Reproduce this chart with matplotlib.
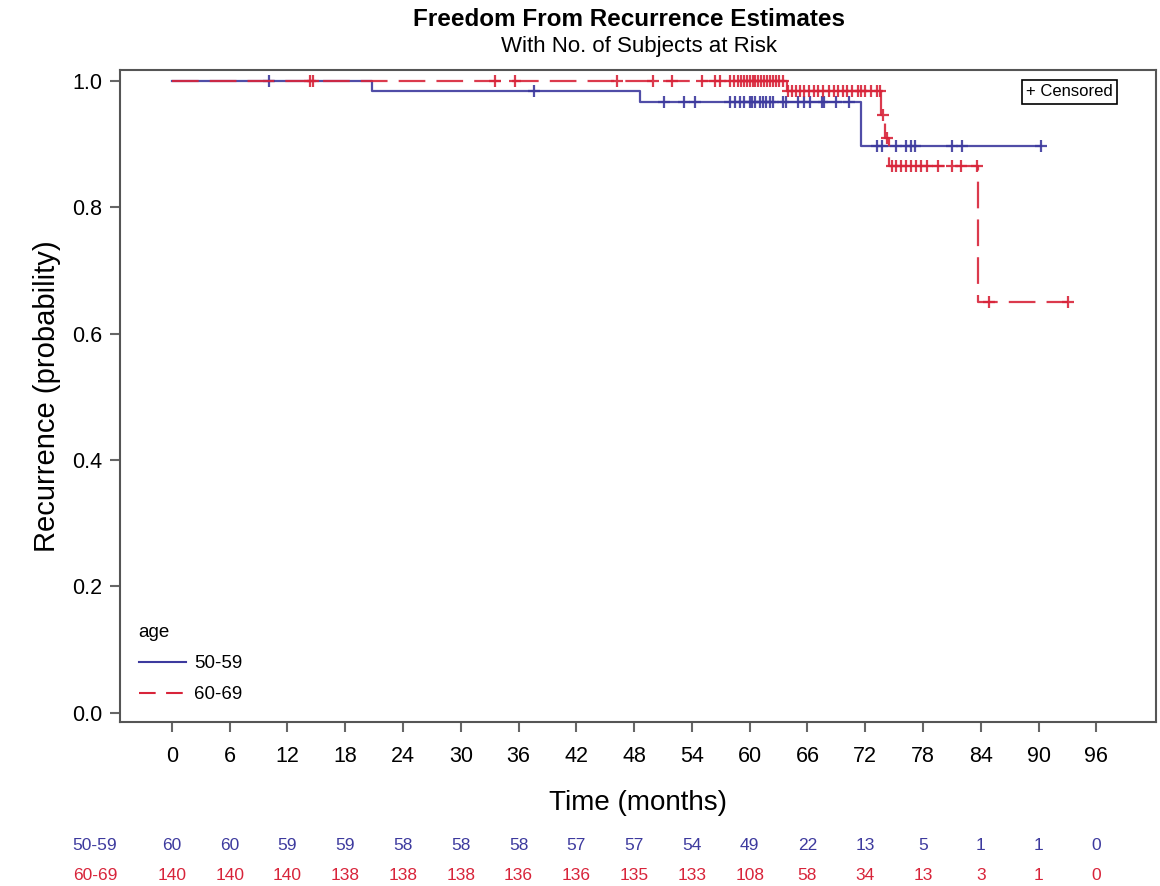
import numpy as np
import matplotlib
matplotlib.use("Agg")
from matplotlib import pyplot as plt
from matplotlib.lines import Line2D

plt.rcParams['font.family'] = ['Liberation Sans Narrow', 'Liberation Sans', 'DejaVu Sans']

# Kaplan-Meier step data (event times and survival after each step)
groups = ["50-59", "60-69"]
blue_times = [0, 20.8, 48.6, 71.6]
blue_surv = [1.0, 0.983, 0.967, 0.897]
blue_end = 90.2
blue_censor = [10.1, 37.6, 51.1, 53.2, 54.3, 58.0, 58.5, 59.0, 59.4, 60.0, 60.2, 60.5,
               61.1, 61.4, 61.7, 62.1, 62.4, 63.5, 63.8, 65.0, 65.6, 66.3, 67.5, 67.7,
               69.0, 70.3, 73.2, 73.7, 75.2, 76.2, 76.7, 77.2, 81.0, 82.0, 90.2]

red_times = [0, 63.9, 73.6, 74.1, 74.5, 83.7]
red_surv = [1.0, 0.984, 0.946, 0.909, 0.865, 0.650]
red_end = 93.1
red_censor = [14.3, 14.6, 33.5, 35.6, 46.2, 50.0, 51.9, 55.0, 56.4, 56.9, 58.0, 58.4,
              58.8, 59.1, 59.4, 59.7, 60.0, 60.3, 60.6, 60.9, 61.2, 61.5, 61.8, 62.1,
              62.4, 62.7, 63.0, 63.5, 64.0, 64.4, 64.8, 65.2, 65.6, 66.2, 66.7, 67.1,
              67.6, 68.2, 68.8, 69.2, 69.7, 70.1, 70.6, 71.2, 71.6, 72.0, 72.6, 73.2,
              73.5, 73.8, 74.3, 74.8, 75.2, 75.7, 76.2, 76.7, 77.3, 77.8, 78.4, 79.6,
              81.0, 81.9, 83.6, 84.9, 93.1]

# number at risk table
risk_times = [0, 6, 12, 18, 24, 30, 36, 42, 48, 54, 60, 66, 72, 78, 84, 90, 96]
risk_blue = [60, 60, 59, 59, 58, 58, 58, 57, 57, 54, 49, 22, 13, 5, 1, 1, 0]
risk_red = [140, 140, 140, 138, 138, 138, 136, 136, 135, 133, 108, 58, 34, 13, 3, 1, 0]

BLUE = '#3d3a9e'
RED = '#d8243a'


def km_at(times, surv, t):
    i = np.searchsorted(times, t, side='right') - 1
    return np.array(surv)[i]


fig = plt.figure(figsize=(11.6, 8.86), dpi=100)
ax = fig.add_axes([0.1034, 0.1851, 0.8932, 0.7359])

series = [
    (blue_times, blue_surv, blue_end, blue_censor, BLUE, '-', None),
    (red_times, red_surv, red_end, red_censor, RED, '--', (12, 5)),
]
for times, surv, end, cens, col, ls, dash in series:
    xs = list(times) + [end]
    ys = list(surv) + [surv[-1]]
    line, = ax.step(xs, ys, where='post', color=col, lw=1.6, ls=ls, alpha=0.9)
    if dash is not None:
        line.set_dashes(dash)
    cens = np.array(cens)
    ax.plot(cens, km_at(times, surv, cens), ls='none', marker='+', ms=9, mew=1.6,
            color=col, alpha=0.9)

ax.set_xlim(-5.4, 102.2)
ax.set_ylim(-0.0147, 1.017)
ax.set_xticks(risk_times)
ax.set_yticks([0.0, 0.2, 0.4, 0.6, 0.8, 1.0])
ax.yaxis.set_major_formatter(matplotlib.ticker.FormatStrFormatter('%.1f'))
ax.tick_params(axis='both', labelsize=15.5, length=7, width=1.5, color='#666666')
ax.tick_params(axis='x', pad=10)
ax.tick_params(axis='y', pad=6)
for sp in ax.spines.values():
    sp.set_color('#555555')
    sp.set_linewidth(1.5)

ax.set_xlabel("Time (months)", fontsize=20, labelpad=17)
ax.set_ylabel("Recurrence (probability)", fontsize=21, labelpad=8)

fig.text(0.542, 0.978, "Freedom From Recurrence Estimates", ha='center', va='center',
         fontsize=17.5, fontweight='bold')
fig.text(0.551, 0.947, "With No. of Subjects at Risk", ha='center', va='center', fontsize=16)

# censored key
ax.text(0.958, 0.978, "+ Censored", transform=ax.transAxes, ha='right', va='top',
        fontsize=12, bbox=dict(boxstyle='square,pad=0.25', fc='white', ec='black', lw=1.2))

# legend
handles = [Line2D([0], [0], color=BLUE, lw=1.5, ls='-'),
           Line2D([0], [0], color=RED, lw=1.5, dashes=(8, 5))]
leg = ax.legend(handles, groups, title="age", loc='lower left', bbox_to_anchor=(0.0, 0.0),
                frameon=False, fontsize=13.5, title_fontsize=13.5, handlelength=2.5,
                labelspacing=0.75, handletextpad=0.45, borderaxespad=0.3,
                borderpad=0.7)
leg._legend_box.align = "left"

# at-risk table
trans = matplotlib.transforms.blended_transform_factory(ax.transData, ax.transAxes)
for label, vals, col, yy in [(groups[0], risk_blue, BLUE, -0.189), (groups[1], risk_red, RED, -0.235)]:
    ax.text(-8.0, yy, label, transform=trans, ha='center', va='center', fontsize=12.5,
            color=col, clip_on=False)
    for t, v in zip(risk_times, vals):
        ax.text(t, yy, str(v), transform=trans, ha='center', va='center', fontsize=12.5,
                color=col, clip_on=False)

fig.savefig("out.png", dpi=100)
